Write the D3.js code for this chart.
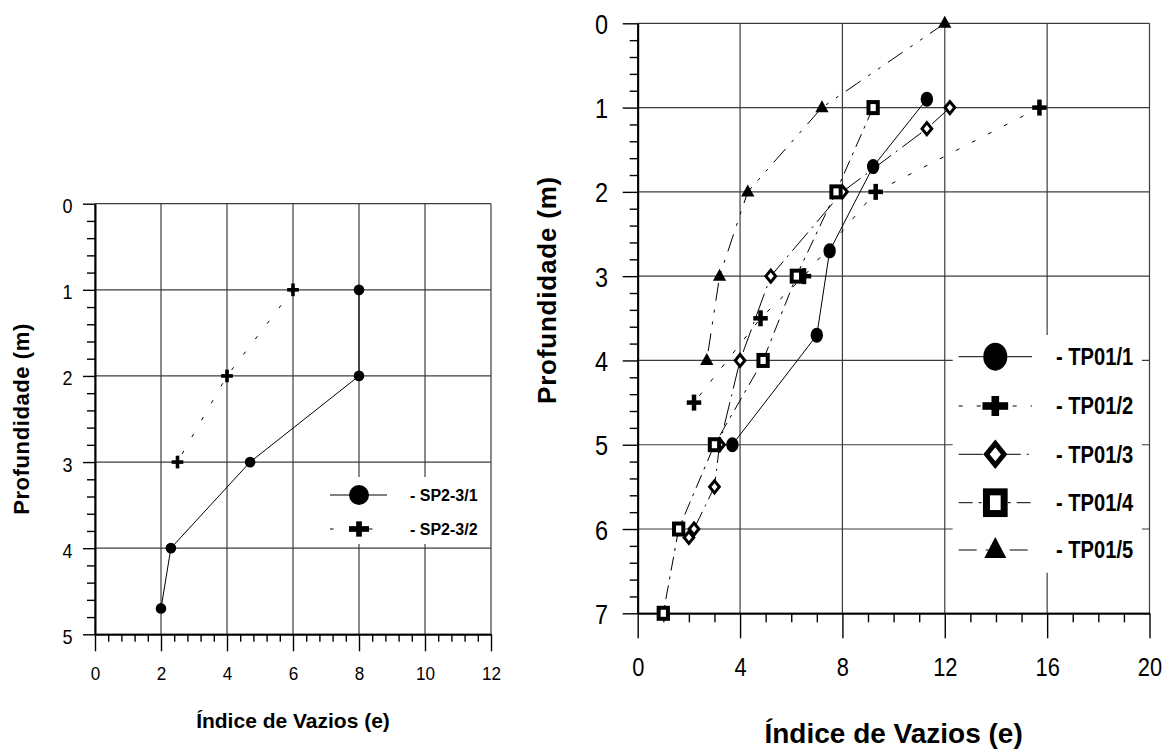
<!DOCTYPE html>
<html>
<head>
<meta charset="utf-8">
<script src="https://cdn.jsdelivr.net/npm/d3@7"></script>
<style>
  body { margin: 0; background: #fff; }
  svg { display: block; }
</style>
</head>
<body>
<script>
// ---- left chart (SP2-3) ----
var leftNames = ["SP2-3/1", "SP2-3/2"];
var sp1_e = [8, 8, 4.7, 2.3, 2.0];
var sp1_z = [1, 2, 3, 4, 4.7];
var sp2_e = [6, 4, 2.5];
var sp2_z = [1, 2, 3];
var leftXTicks = [0, 2, 4, 6, 8, 10, 12];
var leftYTicks = [0, 1, 2, 3, 4, 5];

// ---- right chart (TP01) ----
var rightNames = ["TP01/1", "TP01/2", "TP01/3", "TP01/4", "TP01/5"];
var tp1_e = [11.3, 9.2, 7.5, 7.0, 3.7];
var tp1_z = [0.9, 1.7, 2.7, 3.7, 5];
var tp2_e = [15.7, 9.3, 6.5, 4.8, 2.2];
var tp2_z = [1, 2, 3, 3.5, 4.5];
var tp3_e = [12.2, 11.3, 8.0, 5.2, 4.0, 3.2, 3.0, 2.2, 2.0];
var tp3_z = [1, 1.25, 2, 3, 4, 5, 5.5, 6, 6.1];
var tp4_e = [9.2, 7.75, 6.2, 4.9, 3.0, 1.6, 1.0];
var tp4_z = [1, 2, 3, 4, 5, 6, 7];
var tp5_e = [12, 7.2, 4.3, 3.2, 2.7];
var tp5_z = [0, 1, 2, 3, 4];
var rightXTicks = [0, 4, 8, 12, 16, 20];
var rightYTicks = [0, 1, 2, 3, 4, 5, 6, 7];

var xTitle = "Índice de Vazios (e)";
var yTitle = "Profundidade (m)";

function pts(e, z) {
  return e.map(function(v, i) { return { e: v, z: z[i] }; });
}

var leftData = [pts(sp1_e, sp1_z), pts(sp2_e, sp2_z)];
var rightData = [pts(tp1_e, tp1_z), pts(tp2_e, tp2_z), pts(tp3_e, tp3_z),
                 pts(tp4_e, tp4_z), pts(tp5_e, tp5_z)];

// styles
var leftShape = ["circle", "plus"];
var leftDash = [null, "3.5,16"];
var rightShape = ["circle", "plus", "diamond", "square", "triangle"];
var rightDash = [null, "4,14", "24,6,2,6", "14,6,3,6", "18,9,3,9,3,9"];

var svg = d3.select("body").append("svg")
  .attr("width", 1167)
  .attr("height", 751);

var FONT = "'Liberation Sans', Arial, sans-serif";

// draw one marker
function marker(g, shape, cx, cy, s) {
  if (shape == "circle") {
    g.append("ellipse").attr("cx", cx).attr("cy", cy)
      .attr("rx", s.w / 2).attr("ry", s.h / 2).attr("fill", "#000");
  } else if (shape == "plus") {
    g.append("rect").attr("x", cx - s.w / 2).attr("y", cy - s.t / 2)
      .attr("width", s.w).attr("height", s.t).attr("fill", "#000");
    g.append("rect").attr("x", cx - s.t / 2).attr("y", cy - s.h / 2)
      .attr("width", s.t).attr("height", s.h).attr("fill", "#000");
  } else if (shape == "diamond") {
    var hw = s.w / 2 - s.t / 2, hh = s.h / 2 - s.t / 2;
    g.append("path")
      .attr("d", "M" + cx + "," + (cy - hh) + "L" + (cx + hw) + "," + cy +
        "L" + cx + "," + (cy + hh) + "L" + (cx - hw) + "," + cy + "Z")
      .attr("fill", "#fff").attr("stroke", "#000").attr("stroke-width", s.t);
  } else if (shape == "square") {
    g.append("rect").attr("x", cx - s.w / 2 + s.t / 2).attr("y", cy - s.h / 2 + s.t / 2)
      .attr("width", s.w - s.t).attr("height", s.h - s.t)
      .attr("fill", "#fff").attr("stroke", "#000").attr("stroke-width", s.t);
  } else if (shape == "triangle") {
    g.append("path")
      .attr("d", "M" + cx + "," + (cy - s.h * 0.62) + "L" + (cx + s.w / 2) + "," + (cy + s.h * 0.38) +
        "L" + (cx - s.w / 2) + "," + (cy + s.h * 0.38) + "Z")
      .attr("fill", "#000");
  }
}

function drawPanel(c) {
  var g = svg.append("g");
  var x = c.x, y = c.y;
  var x0 = x.range()[0], x1 = x.range()[1];
  var y0 = y.range()[0], y1 = y.range()[1];

  // grid
  g.append("g").selectAll("line").data(c.xTicks).enter().append("line")
    .attr("x1", function(d) { return x(d); }).attr("x2", function(d) { return x(d); })
    .attr("y1", y0).attr("y2", y1)
    .attr("stroke", "#3c3c3c").attr("stroke-width", 1.2);
  g.append("g").selectAll("line").data(c.yTicks).enter().append("line")
    .attr("y1", function(d) { return y(d); }).attr("y2", function(d) { return y(d); })
    .attr("x1", x0).attr("x2", x1)
    .attr("stroke", "#3c3c3c").attr("stroke-width", 1.2);

  // minor ticks
  g.append("g").attr("transform", "translate(0," + y1 + ")")
    .call(d3.axisBottom(x).tickValues(c.xMinor).tickSize(c.xMinorLen).tickFormat(""))
    .call(function(a) { a.select(".domain").remove(); })
    .selectAll("line").attr("stroke-width", 1.4);
  g.append("g").attr("transform", "translate(" + x0 + ",0)")
    .call(d3.axisLeft(y).tickValues(c.yMinor).tickSize(c.yMinorLen).tickFormat(""))
    .call(function(a) { a.select(".domain").remove(); })
    .selectAll("line").attr("stroke-width", 1.4);

  // major ticks + labels
  var ax = g.append("g").attr("transform", "translate(0," + y1 + ")")
    .call(d3.axisBottom(x).tickValues(c.xTicks).tickSize(c.xMajorLen).tickSizeOuter(0)
      .tickFormat(d3.format("d")));
  ax.attr("font-family", FONT).attr("font-size", c.xFont);
  ax.select(".domain").attr("stroke-width", 2);
  ax.selectAll(".tick line").attr("stroke-width", 1.4);
  ax.selectAll("text").attr("y", null).attr("dy", null).attr("fill", "#000")
    .attr("transform", "translate(0," + c.xLabelBase + ") scale(" + c.sx + ",1)");

  var ay = g.append("g").attr("transform", "translate(" + x0 + ",0)")
    .call(d3.axisLeft(y).tickValues(c.yTicks).tickSize(c.yMajorLen).tickSizeOuter(0)
      .tickFormat(d3.format("d")));
  ay.attr("font-family", FONT).attr("font-size", c.yFont);
  ay.select(".domain").attr("stroke-width", 2);
  ay.selectAll(".tick line").attr("stroke-width", 1.4);
  ay.selectAll("text").attr("x", null).attr("dy", null).attr("fill", "#000")
    .attr("transform", "translate(" + (-c.yLabelPad) + "," + c.yLabelDy + ") scale(" + c.sx + ",1)");

  // titles
  g.append("text")
    .attr("x", (x0 + x1) / 2).attr("y", c.xTitleBase)
    .attr("text-anchor", "middle").attr("font-family", FONT)
    .attr("font-weight", "bold").attr("font-size", c.xTitleFont)
    .text(xTitle);
  g.append("text")
    .attr("transform", "translate(" + c.yTitleX + "," + c.yTitleY + ") rotate(-90)")
    .attr("text-anchor", "middle").attr("font-family", FONT)
    .attr("font-weight", "bold").attr("font-size", c.yTitleFont)
    .attr("letter-spacing", c.yTitleLs)
    .text(yTitle);

  // legend box (white, hides grid)
  var L = c.legend;
  g.append("rect").attr("x", L.x).attr("y", L.y).attr("width", L.w).attr("height", L.h)
    .attr("fill", "#fff");

  // series lines
  var line = d3.line()
    .x(function(d) { return x(d.e); })
    .y(function(d) { return y(d.z); });
  c.data.forEach(function(s, i) {
    g.append("path").datum(s)
      .attr("fill", "none")
      .attr("stroke", "#000")
      .attr("stroke-width", 1)
      .attr("stroke-dasharray", c.dash[i])
      .attr("d", line);
  });

  // markers
  c.data.forEach(function(s, i) {
    var mg = g.append("g");
    s.forEach(function(d) {
      marker(mg, c.shape[i], x(d.e), y(d.z), c.msize[c.shape[i]]);
    });
  });

  // legend entries
  c.names.forEach(function(n, i) {
    var ry = L.rows[i];
    g.append("line").attr("x1", L.lx1).attr("x2", L.lx2).attr("y1", ry).attr("y2", ry)
      .attr("stroke", "#000").attr("stroke-width", 1)
      .attr("stroke-dasharray", c.dash[i]);
    marker(g, c.shape[i], L.mx, ry, L.msize[c.shape[i]]);
    g.append("text")
      .attr("transform", "translate(" + L.tx + "," + (ry + L.tdy) + ") scale(" + L.sx + ",1)")
      .attr("font-family", FONT).attr("font-weight", "bold").attr("font-size", L.font)
      .text("- " + n);
  });
}

// left panel
drawPanel({
  x: d3.scaleLinear().domain([0, 12]).range([95, 491]),
  y: d3.scaleLinear().domain([0, 5]).range([203.7, 634.3]),
  xTicks: leftXTicks, yTicks: leftYTicks,
  xMinor: d3.range(0, 12.01, 0.4).filter(function(v) { return Math.abs(v / 2 - Math.round(v / 2)) > 0.01; }),
  yMinor: d3.range(0, 5.01, 0.2).filter(function(v) { return Math.abs(v - Math.round(v)) > 0.01; }),
  xMinorLen: 7.5, yMinorLen: 8, xMajorLen: 17, yMajorLen: 12,
  xFont: 19, yFont: 20, sx: 0.9,
  xLabelBase: 45.7, yLabelPad: 22.5, yLabelDy: 9,
  xTitleBase: 728.3, xTitleFont: 21,
  yTitleX: 29, yTitleY: 419, yTitleFont: 22, yTitleLs: 0.6,
  data: leftData, names: leftNames, shape: leftShape, dash: leftDash,
  msize: {
    circle: { w: 10.6, h: 10.8 },
    plus: { w: 11.7, h: 12.7, t: 3.6 }
  },
  legend: {
    x: 318, y: 477, w: 170, h: 67,
    rows: [495, 529], lx1: 330, lx2: 387, mx: 359,
    tx: 410, tdy: 5.8, font: 16, sx: 1,
    msize: {
      circle: { w: 20, h: 20 },
      plus: { w: 20, h: 15.3, t: 5.7 }
    }
  }
});

// right panel
drawPanel({
  x: d3.scaleLinear().domain([0, 20]).range([637.7, 1149.5]),
  y: d3.scaleLinear().domain([0, 7]).range([23.3, 613.3]),
  xTicks: rightXTicks, yTicks: rightYTicks,
  xMinor: d3.range(0, 20.01, 1).filter(function(v) { return v % 4 != 0; }),
  yMinor: d3.range(0, 7.01, 0.2).filter(function(v) { return Math.abs(v - Math.round(v)) > 0.01; }),
  xMinorLen: 9, yMinorLen: 8, xMajorLen: 25, yMajorLen: 15,
  xFont: 26, yFont: 28, sx: 0.84,
  xLabelBase: 62.7, yLabelPad: 29.7, yLabelDy: 10,
  xTitleBase: 742.7, xTitleFont: 28,
  yTitleX: 556, yTitleY: 290, yTitleFont: 26, yTitleLs: 0.8,
  data: rightData, names: rightNames, shape: rightShape, dash: rightDash,
  msize: {
    circle: { w: 12.4, h: 15 },
    plus: { w: 14.5, h: 16, t: 4.5 },
    diamond: { w: 12.7, h: 15, t: 3 },
    square: { w: 13.3, h: 15, t: 4 },
    triangle: { w: 13.3, h: 12 }
  },
  legend: {
    x: 952.7, y: 335, w: 189.3, h: 237.7,
    rows: [356.7, 406, 454.3, 502.7, 550], lx1: 958.7, lx2: 1032, mx: 995.3,
    tx: 1056, tdy: 8.3, font: 23, sx: 0.875,
    msize: {
      circle: { w: 24, h: 28 },
      plus: { w: 25.7, h: 20, t: 7.6 },
      diamond: { w: 22.7, h: 26.7, t: 5 },
      square: { w: 24.7, h: 28.7, t: 7 },
      triangle: { w: 22, h: 21 }
    }
  }
});
</script>
</body>
</html>
